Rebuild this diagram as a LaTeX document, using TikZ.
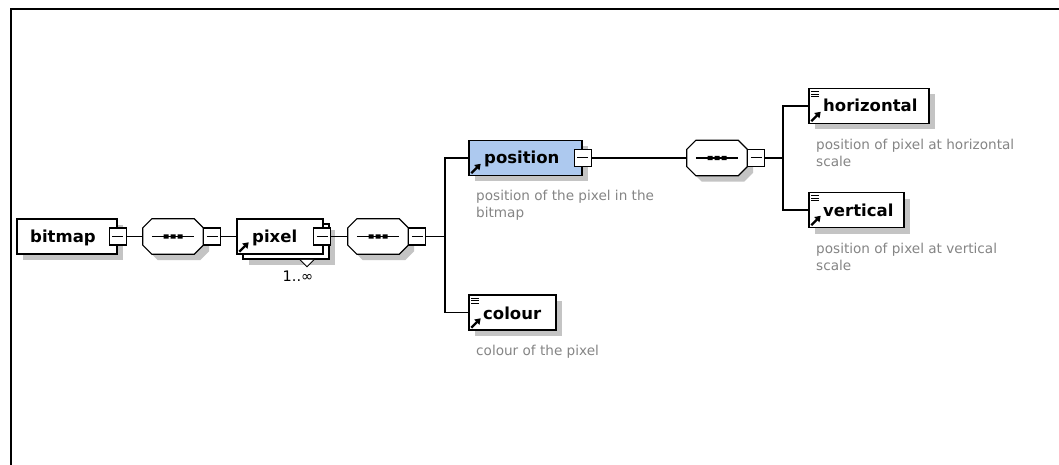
\documentclass[tikz,border=0pt]{standalone}
\usepackage{fontspec}
\setmainfont{DejaVu Sans}
\usetikzlibrary{arrows.meta,calc}

\definecolor{shade}{HTML}{C4C4C4}
\definecolor{desc}{HTML}{858585}
\definecolor{selfill}{HTML}{ADC9EF}

\tikzset{
  shadowed/.style={preaction={fill=shade, transform canvas={shift={(6pt,-6pt)}}}},
  elbox/.style={draw=black, line width=1.5pt, fill=white, inner sep=0pt, minimum height=35pt},
  seqnode/.style={inner sep=0pt, minimum width=60pt, minimum height=35pt},
  octline/.style={draw=black, line width=1.2pt, fill=white},
  minusbox/.style={draw=black, line width=1.1pt, fill=white, inner sep=0pt, minimum size=17pt,
    path picture={\draw[line width=1pt] ([xshift=3pt]path picture bounding box.west) -- ([xshift=-3pt]path picture bounding box.east);}},
  eltext/.style={font=\bfseries\fontsize{16.5}{19}\selectfont, inner sep=0pt, anchor=base west},
  desctext/.style={font=\fontsize{13.6}{17}\selectfont, text=desc, inner sep=0pt, anchor=north west, align=left},
  conn/.style={draw=black, line width=1.2pt},
  refarrow/.style={line width=2.2pt, -{Triangle[length=5.5pt,width=7pt]}},
  listline/.style={line width=1pt}
}

% sequence compositor: octagon with a line and three dots
\newcommand\drawseq[1]{%
  \path[fill=shade, transform canvas={shift={(6pt,-6pt)}}]
    ([xshift=9pt]#1.north west) -- ([xshift=-9pt]#1.north east) -- ([yshift=-9pt]#1.north east)
    -- ([yshift=9pt]#1.south east) -- ([xshift=-9pt]#1.south east) -- ([xshift=9pt]#1.south west)
    -- ([yshift=9pt]#1.south west) -- ([yshift=-9pt]#1.north west) -- cycle;
  \path[octline]
    ([xshift=9pt]#1.north west) -- ([xshift=-9pt]#1.north east) -- ([yshift=-9pt]#1.north east)
    -- ([yshift=9pt]#1.south east) -- ([xshift=-9pt]#1.south east) -- ([xshift=9pt]#1.south west)
    -- ([yshift=9pt]#1.south west) -- ([yshift=-9pt]#1.north west) -- cycle;
  \draw[line width=1.1pt] ([xshift=9pt]#1.west) -- ([xshift=-9pt]#1.east);
  \foreach \dx in {-7,0,7} {\fill ([xshift=\dx pt]#1.center) rectangle +(2.5pt,2.2pt) rectangle +(-2.5pt,-2.2pt);}
}
% reference arrow in the lower left corner of an element
\newcommand\refmark[1]{\draw[refarrow] ([shift={(3pt,3pt)}]#1.south west) -- ([shift={(12.5pt,12.5pt)}]#1.south west);}
% simple-content mark in the upper left corner of an element
\newcommand\listmark[1]{%
  \foreach \dy in {4,6.5,9} {\draw[listline] ([shift={(3pt,-\dy pt)}]#1.north west) -- ([shift={(10.5pt,-\dy pt)}]#1.north west);}}

\begin{document}
\begin{tikzpicture}[x=1pt,y=-1pt]
\useasboundingbox (0,0) rectangle (1059,465);
\fill[white] (0,0) rectangle (1059,465);
\draw[line width=2pt] (10.5,465) -- (10.5,9.5) -- (1059,9.5);

% root element
\node[elbox, shadowed, minimum width=100pt] (bitmap) at (67,236.5) {};
\node[eltext] (bitmapt) at (30,242.5) {bitmap};
\node[minusbox] (bitmapm) at (bitmap.east) {};

% first sequence
\node[seqnode] (seqa) at (173,236.5) {};
\drawseq{seqa}
\node[minusbox, anchor=west] (seqam) at (seqa.east) {};

% repeated pixel element
\node[elbox, shadowed, minimum width=86pt] (pixelback) at (286,241.5) {};
\filldraw[fill=white, line width=1pt] ([xshift=14pt]pixelback.south) -- ([xshift=21pt,yshift=-7pt]pixelback.south) -- ([xshift=28pt]pixelback.south);
\node[elbox, minimum width=86pt] (pixel) at (280,236.5) {};
\refmark{pixel}
\node[eltext] (pixelt) at (252,242.5) {pixel};
\node[minusbox] (pixelm) at ([xshift=-1.5pt]pixel.east) {};
\node[font=\fontsize{14.5}{16}\selectfont, inner sep=0pt] (mult) at (298,276) {1..∞};

% second sequence
\node[seqnode] (seqb) at (378,236.5) {};
\drawseq{seqb}
\node[minusbox, anchor=west] (seqbm) at (seqb.east) {};
\coordinate (ja) at (445,236.5);

% position
\node[elbox, shadowed, fill=selfill, minimum width=113pt] (position) at (525.5,158) {};
\refmark{position}
\node[eltext] (positiont) at (484,164) {position};
\node[minusbox] (positionm) at (position.east) {};
\node[desctext] (positiond) at (476,188.1) {\strut position of the pixel in the\\bitmap};

% colour
\node[elbox, shadowed, minimum width=87pt] (colour) at (512.5,312.5) {};
\refmark{colour}
\listmark{colour}
\node[eltext] (colourt) at (483,319) {colour};
\node[desctext] (colourd) at (476,343.1) {\strut colour of the pixel};

% third sequence
\node[seqnode] (seqc) at (717,158) {};
\drawseq{seqc}
\node[minusbox, anchor=west] (seqcm) at (seqc.east) {};
\coordinate (jb) at (783,158);

% horizontal
\node[elbox, shadowed, minimum width=120pt] (horizontal) at (869,106) {};
\refmark{horizontal}
\listmark{horizontal}
\node[eltext] (horizontalt) at (823,112) {horizontal};
\node[desctext] (horizontald) at (816,137.1) {\strut position of pixel at horizontal\\scale};

% vertical
\node[elbox, shadowed, minimum width=95pt] (vertical) at (856.5,210) {};
\refmark{vertical}
\listmark{vertical}
\node[eltext] (verticalt) at (823,216) {vertical};
\node[desctext] (verticald) at (816,241.1) {\strut position of pixel at vertical\\scale};

% connectors
\draw[conn] (bitmapm.east) -- (seqa.west);
\draw[conn] (seqam.east) -- (pixel.west);
\draw[conn] (pixelm.east) -- (seqb.west);
\draw[conn] (seqbm.east) -- (ja);
\draw[conn] (position.west) -- (position.west -| ja) -- (colour.west -| ja) -- (colour.west);
\draw[conn] (positionm.east) -- (seqc.west);
\draw[conn] (seqcm.east) -- (jb);
\draw[conn] (horizontal.west) -- (horizontal.west -| jb) -- (vertical.west -| jb) -- (vertical.west);
\end{tikzpicture}
\end{document}
